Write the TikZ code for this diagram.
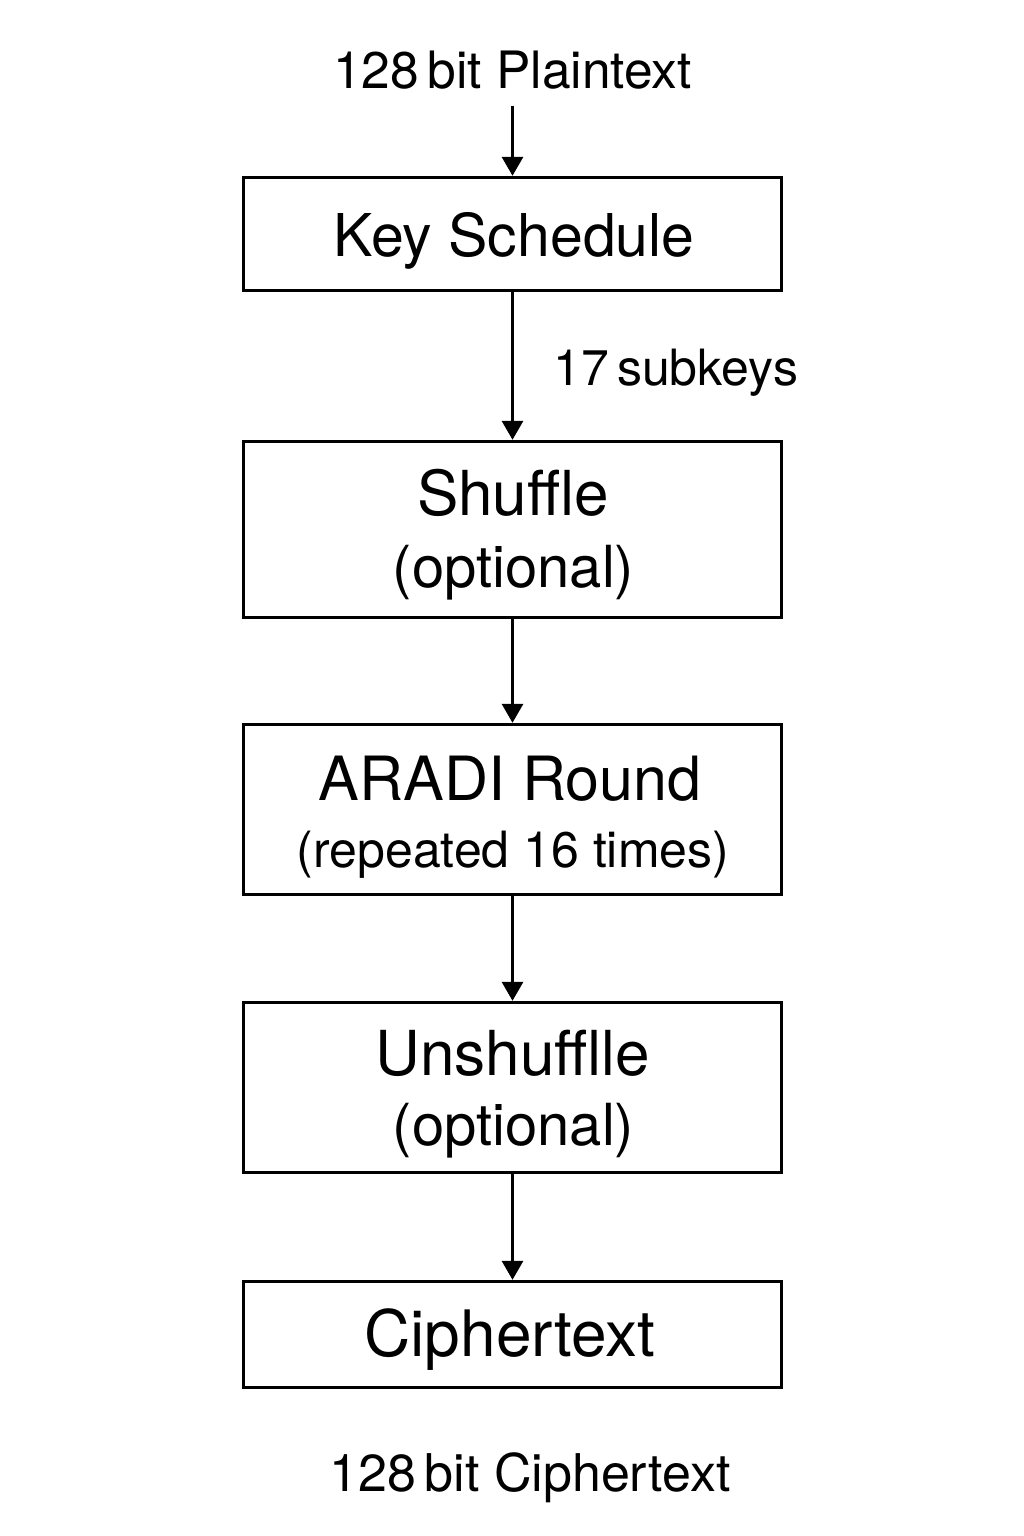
\documentclass[tikz,border=0pt]{standalone}
\usepackage{fontspec}
\setmainfont{TeX Gyre Heros}
\usetikzlibrary{arrows.meta}
\begin{document}
\begin{tikzpicture}[x=1pt,y=-1pt,
  box/.style={draw,line width=3.4pt,minimum width=538pt,inner sep=0pt},
  txt/.style={anchor=base,inner sep=0pt},
  big/.style={txt,font=\fontsize{59}{60}\selectfont},
  huge/.style={txt,font=\fontsize{62}{64}\selectfont},
  mid/.style={txt,font=\fontsize{58}{60}\selectfont},
  small/.style={txt,font=\fontsize{51.5}{53}\selectfont},
  arr/.style={line width=3.2pt,-{Triangle[width=21pt,length=19pt]}}]
\useasboundingbox (0,0) rectangle (1024,1536);
\fill[white] (0,0) rectangle (1024,1536);
% boxes
\node[box,minimum height=113pt] (ks) at (512.5,234) {};
\node[box,minimum height=176pt] (sh) at (512.5,529.5) {};
\node[box,minimum height=170pt] (ar) at (512.5,809.5) {};
\node[box,minimum height=170pt] (us) at (512.5,1087.5) {};
\node[box,minimum height=106pt] (ct) at (512.5,1334.5) {};
% texts
\node[small,inner ysep=16pt] (pt) at (512.5,89) {128\,bit Plaintext};
\node[big] (kst) at (514,256) {Key Schedule};
\node[txt,font=\fontsize{50}{52}\selectfont,anchor=base west] (sk) at (553,385) {17\,subkeys};
\node[huge] (sht) at (513,515) {Shuffle};
\node[mid] (sho) at (513.5,587) {(optional)};
\node[txt,font=\fontsize{61}{62}\selectfont] (art) at (510,800) {ARADI Round};
\node[txt,font=\fontsize{50}{52}\selectfont] (arr) at (513,867) {(repeated 16 times)};
\node[huge] (ust) at (513,1075) {Unshufflle};
\node[mid] (uso) at (513.5,1145) {(optional)};
\node[txt,font=\fontsize{64}{66}\selectfont] (ctt) at (510,1356) {Ciphertext};
\node[txt,font=\fontsize{52}{54}\selectfont] (cb) at (530,1491) {128\,bit Ciphertext};
% connectors
\draw[arr] (pt.south) -- (ks.north);
\draw[arr] (ks.south) -- (sh.north);
\draw[arr] (sh.south) -- (ar.north);
\draw[arr] (ar.south) -- (us.north);
\draw[arr] (us.south) -- (ct.north);
\end{tikzpicture}
\end{document}
